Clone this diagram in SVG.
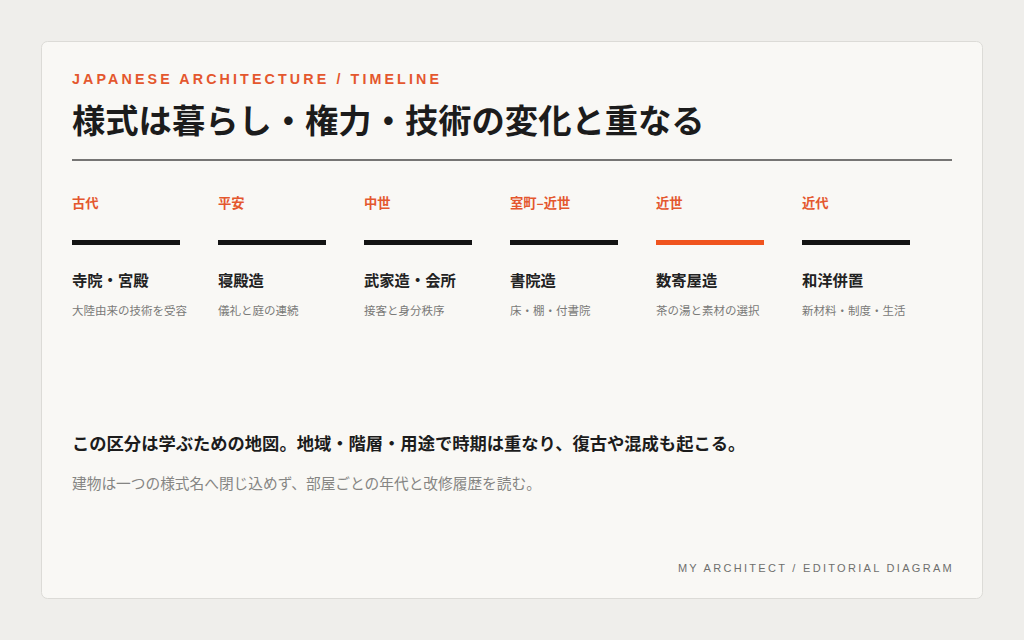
<svg xmlns="http://www.w3.org/2000/svg" width="1024" height="640" viewBox="0 0 1024 640">
<style>
text{font-family:"Liberation Sans","Noto Sans CJK JP",sans-serif}
.cjk{font-family:"Noto Sans CJK JP","Liberation Sans",sans-serif}
.kicker{font-size:14.3px;font-weight:700;letter-spacing:3.1px;fill:#e4572e}
.title{font-size:33.3px;font-weight:700;fill:#1c1c1c}
.period{font-size:13.3px;font-weight:700;fill:#e4572e}
.name{font-size:15.3px;font-weight:700;fill:#222}
.desc{font-size:11.5px;fill:#7a7a78}
.bar{fill:#141414}
.bar.hl{fill:#f0541e}
.lead{font-size:17.3px;font-weight:700;fill:#1c1c1c}
.sub{font-size:14.7px;fill:#858583}
.foot{font-size:11px;letter-spacing:2.3px;fill:#6f6f6d}
</style>
<rect width="1024" height="640" fill="#efeeeb"/>
<rect x="41.5" y="41.5" width="941" height="557" rx="6" fill="#f9f8f5" stroke="#dcdbd7"/>
<text class="kicker" x="72" y="84">JAPANESE ARCHITECTURE / TIMELINE</text>
<text class="title cjk" x="72" y="133">様式は暮らし・権力・技術の変化と重なる</text>
<line x1="72" y1="160" x2="952" y2="160" stroke="#4a4a48" stroke-width="1.5"/>
<g id="connectors"></g>
<g id="n1"><text class="period cjk" x="72" y="208">古代</text><rect class="bar" x="72" y="240" width="108" height="5"/><text class="name cjk" x="72" y="286">寺院・宮殿</text><text class="desc cjk" x="72" y="315">大陸由来の技術を受容</text></g>
<g id="n2"><text class="period cjk" x="218" y="208">平安</text><rect class="bar" x="218" y="240" width="108" height="5"/><text class="name cjk" x="218" y="286">寝殿造</text><text class="desc cjk" x="218" y="315">儀礼と庭の連続</text></g>
<g id="n3"><text class="period cjk" x="364" y="208">中世</text><rect class="bar" x="364" y="240" width="108" height="5"/><text class="name cjk" x="364" y="286">武家造・会所</text><text class="desc cjk" x="364" y="315">接客と身分秩序</text></g>
<g id="n4"><text class="period cjk" x="510" y="208">室町–近世</text><rect class="bar" x="510" y="240" width="108" height="5"/><text class="name cjk" x="510" y="286">書院造</text><text class="desc cjk" x="510" y="315">床・棚・付書院</text></g>
<g id="n5"><text class="period cjk" x="656" y="208">近世</text><rect class="bar hl" x="656" y="240" width="108" height="5"/><text class="name cjk" x="656" y="286">数寄屋造</text><text class="desc cjk" x="656" y="315">茶の湯と素材の選択</text></g>
<g id="n6"><text class="period cjk" x="802" y="208">近代</text><rect class="bar" x="802" y="240" width="108" height="5"/><text class="name cjk" x="802" y="286">和洋併置</text><text class="desc cjk" x="802" y="315">新材料・制度・生活</text></g>
<text class="lead cjk" x="72" y="450">この区分は学ぶための地図。地域・階層・用途で時期は重なり、復古や混成も起こる。</text>
<text class="sub cjk" x="72" y="489">建物は一つの様式名へ閉じ込めず、部屋ごとの年代と改修履歴を読む。</text>
<text class="foot" x="954" y="572" text-anchor="end">MY ARCHITECT / EDITORIAL DIAGRAM</text>
</svg>
